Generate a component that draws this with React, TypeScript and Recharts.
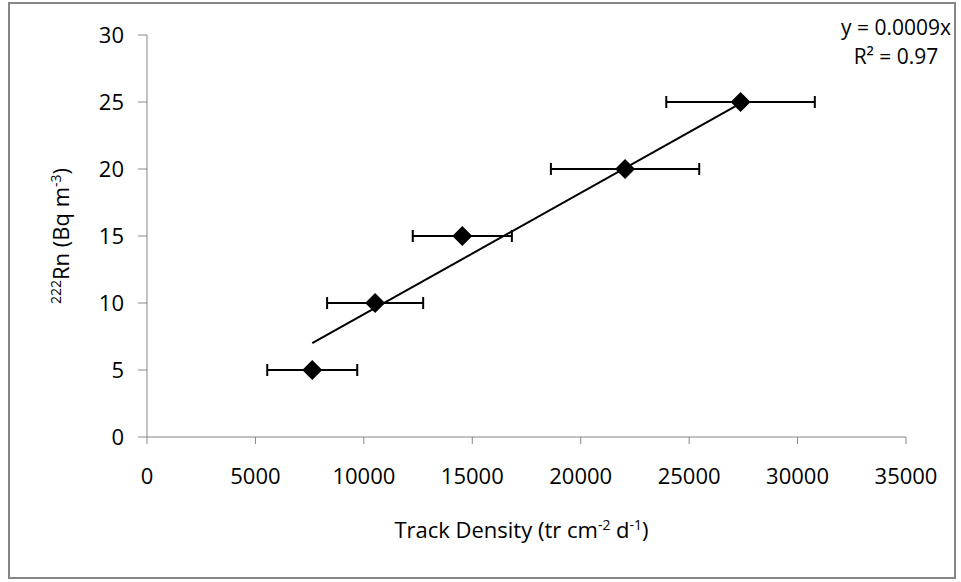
import { ScatterChart, Scatter, XAxis, YAxis, ErrorBar, Label } from "recharts";

// values
const trackDensity = [7620, 10520, 14540, 22045, 27370];
const radon = [5, 10, 15, 20, 25];
const densityErr = [2075, 2215, 2285, 3420, 3425];

// linear trendline (y = 0.0009x), end points as drawn
const trendX = [7620, 27370];
const trendY = [7.0, 24.9];

const xTicks = [0, 5000, 10000, 15000, 20000, 25000, 30000, 35000];
const yTicks = [0, 5, 10, 15, 20, 25, 30];

const FONT = "'Open Sans', sans-serif";
const AXIS_GREY = "#868686";

const points = trackDensity.map((x, i) => ({ x, y: radon[i], err: densityErr[i] }));
const trend = trendX.map((x, i) => ({ x, y: trendY[i] }));

const Diamond = (props: any) => {
  const { cx, cy } = props;
  const r = 10;
  return <path d={`M${cx},${cy - r}L${cx + r},${cy}L${cx},${cy + r}L${cx - r},${cy}Z`} fill="#000" />;
};

const tickStyle = { fontSize: 22, fill: "#000", fontFamily: FONT };

export default function App() {
  return (
    <div style={{ position: "absolute", left: 0, top: 0, width: 961, height: 582, background: "#fff" }}>
      {/* chart frame */}
      <div
        style={{
          position: "absolute", left: 8, top: 2, width: 948, height: 577,
          border: `2px solid ${AXIS_GREY}`, boxSizing: "border-box",
        }}
      />
      <ScatterChart width={961} height={582} margin={{ top: 35, right: 55, left: 87, bottom: 85 }}>
        <XAxis
          type="number"
          dataKey="x"
          domain={[0, 35000]}
          ticks={xTicks}
          interval={0}
          tick={tickStyle}
          tickSize={7}
          tickMargin={24}
          height={60}
          stroke={AXIS_GREY}
          tickLine={{ stroke: AXIS_GREY }}
        >
          <Label
            content={(p: any) => {
              const vb = p.viewBox;
              const cx = vb.x + vb.width / 2 - 5;
              return (
                <text x={cx} y={538} textAnchor="middle" fontFamily={FONT} fontSize={22} fill="#000">
                  Track Density (tr cm
                  <tspan dy={-8} fontSize={14}>-2</tspan>
                  <tspan dy={8}> d</tspan>
                  <tspan dy={-8} fontSize={14}>-1</tspan>
                  <tspan dy={8}>)</tspan>
                </text>
              );
            }}
          />
        </XAxis>
        <YAxis
          type="number"
          dataKey="y"
          domain={[0, 30]}
          ticks={yTicks}
          interval={0}
          tick={tickStyle}
          tickSize={9}
          tickMargin={14}
          width={60}
          stroke={AXIS_GREY}
          tickLine={{ stroke: AXIS_GREY }}
        >
          <Label
            content={(p: any) => {
              const vb = p.viewBox;
              const cy = vb.y + vb.height / 2;
              const bx = 69;
              return (
                <text
                  x={bx}
                  y={cy}
                  transform={`rotate(-90, ${bx}, ${cy})`}
                  textAnchor="middle"
                  fontFamily={FONT}
                  fontSize={22}
                  fill="#000"
                >
                  <tspan dy={-8} fontSize={14}>222</tspan>
                  <tspan dy={8}>Rn (Bq m</tspan>
                  <tspan dy={-8} fontSize={14}>-3</tspan>
                  <tspan dy={8}>)</tspan>
                </text>
              );
            }}
          />
        </YAxis>
        <Scatter
          data={trend}
          line={{ stroke: "#000", strokeWidth: 2 }}
          shape={() => <g />}
          isAnimationActive={false}
        />
        <Scatter data={points} shape={Diamond} isAnimationActive={false}>
          <ErrorBar dataKey="err" direction="x" width={6} stroke="#000" strokeWidth={2} />
        </Scatter>
      </ScatterChart>
      {/* trendline equation */}
      <div
        style={{
          position: "absolute", left: 826, top: 13, width: 140, textAlign: "center",
          fontFamily: FONT, fontSize: 21, lineHeight: "29px", color: "#000",
        }}
      >
        <div>y = 0.0009x</div>
        <div>R² = 0.97</div>
      </div>
    </div>
  );
}
